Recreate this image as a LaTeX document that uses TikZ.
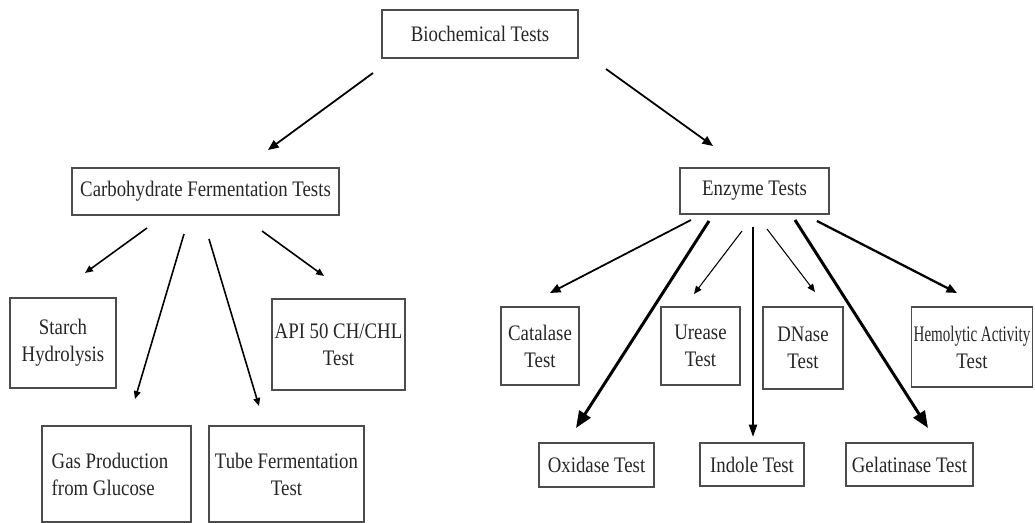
\documentclass[tikz,border=0pt]{standalone}
\usepackage{fontspec}
\setmainfont{Liberation Serif}[FakeStretch=0.85]
\usepackage{graphicx}
\usepackage{tikz}
\usetikzlibrary{arrows.meta, positioning}

\tikzset{
  testbox/.style={draw=black!70, line width=0.7pt, inner sep=0pt, align=center,
    text=black!85, font=\fontsize{12.6}{15.3}\selectfont},
  thinarr/.style={line width=0.6pt, -{Triangle[length=4.5pt, width=3.8pt]}},
  medarr/.style={line width=1pt, -{Triangle[length=6pt, width=5pt]}},
  bigarr/.style={line width=1.7pt, -{Triangle[length=9.5pt, width=7.5pt]}},
}

\begin{document}
\begin{tikzpicture}[x=0.02cm, y=-0.02cm]
  \useasboundingbox (0,0) rectangle (1035,523);

  % Radice
  \node[testbox, minimum width=3.92cm, minimum height=0.96cm] (bio) at (480,34) {Biochemical Tests};

  % Due gruppi
  \node[testbox, minimum width=5.34cm, minimum height=0.94cm] (carb) at (205.5,191.5) {Carbohydrate Fermentation Tests};
  \node[testbox, minimum width=2.98cm, minimum height=0.92cm] (enz) at (754.5,191) {Enzyme Tests};

  % Test dei carboidrati
  \node[testbox, minimum width=2.12cm, minimum height=1.80cm] (starch) at (63,343) {Starch\\Hydrolysis};
  \node[testbox, minimum width=2.66cm, minimum height=1.82cm] (api) at (338.5,344.5) {API 50 CH/CHL\\Test};
  \node[testbox, minimum width=2.98cm, minimum height=1.92cm, align=left] (gas) at (116.5,474) {Gas Production\hspace*{0.26cm}\\from Glucose};
  \node[testbox, minimum width=3.10cm, minimum height=1.92cm] (tube) at (286.5,474) {Tube Fermentation\\Test};

  % Test enzimatici
  \node[testbox, minimum width=1.56cm, minimum height=1.56cm] (cat) at (540,346) {Catalase\\Test};
  \node[testbox, minimum width=1.58cm, minimum height=1.56cm] (ure) at (700.5,346) {Urease\\Test};
  \node[testbox, minimum width=1.60cm, minimum height=1.64cm] (dna) at (803,348) {DNase\\Test};
  \node[testbox, minimum width=2.42cm, minimum height=1.60cm] (hem) at (972,347) {\scalebox{0.8}[1]{Hemolytic Activity}\\Test};
  \node[testbox, minimum width=2.30cm, minimum height=0.88cm] (oxi) at (596.5,465) {Oxidase Test};
  \node[testbox, minimum width=2.08cm, minimum height=0.86cm] (ind) at (752,464.5) {Indole Test};
  \node[testbox, minimum width=2.54cm, minimum height=0.86cm] (gel) at (909.5,464.5) {Gelatinase Test};

  % Estremi delle frecce
  \coordinate (bio-l) at (373,73);   \coordinate (carb-in) at (268,150);
  \coordinate (bio-r) at (606,69);   \coordinate (enz-in) at (713,146);
  \coordinate (carb-1) at (147,228); \coordinate (starch-in) at (85,273);
  \coordinate (carb-2) at (184,234); \coordinate (gas-in) at (135,399);
  \coordinate (carb-3) at (209,239); \coordinate (tube-in) at (259,406);
  \coordinate (carb-4) at (262,231); \coordinate (api-in) at (324,276);
  \coordinate (enz-1) at (691,220);  \coordinate (cat-in) at (550,293);
  \coordinate (enz-2) at (709,221);  \coordinate (oxi-in) at (576,428);
  \coordinate (enz-3) at (742,231);  \coordinate (ure-in) at (694,294);
  \coordinate (enz-4) at (753,227);  \coordinate (ind-in) at (753,437);
  \coordinate (enz-5) at (767,229);  \coordinate (dna-in) at (815,292);
  \coordinate (enz-6) at (795,220);  \coordinate (gel-in) at (928,428);
  \coordinate (enz-7) at (817,221);  \coordinate (hem-in) at (957,293);

  % Frecce
  \draw[medarr] (bio-l) -- (carb-in);
  \draw[medarr] (bio-r) -- (enz-in);

  \draw[thinarr, line width=0.9pt] (carb-1) -- (starch-in);
  \draw[thinarr, line width=0.9pt] (carb-2) -- (gas-in);
  \draw[thinarr, line width=0.9pt] (carb-3) -- (tube-in);
  \draw[thinarr, line width=0.9pt] (carb-4) -- (api-in);

  \draw[medarr] (enz-1) -- (cat-in);
  \draw[bigarr] (enz-2) -- (oxi-in);
  \draw[thinarr] (enz-3) -- (ure-in);
  \draw[line width=1.3pt, -{Triangle[length=7pt, width=4.5pt]}] (enz-4) -- (ind-in);
  \draw[thinarr] (enz-5) -- (dna-in);
  \draw[bigarr] (enz-6) -- (gel-in);
  \draw[medarr, line width=1.3pt] (enz-7) -- (hem-in);
\end{tikzpicture}
\end{document}
